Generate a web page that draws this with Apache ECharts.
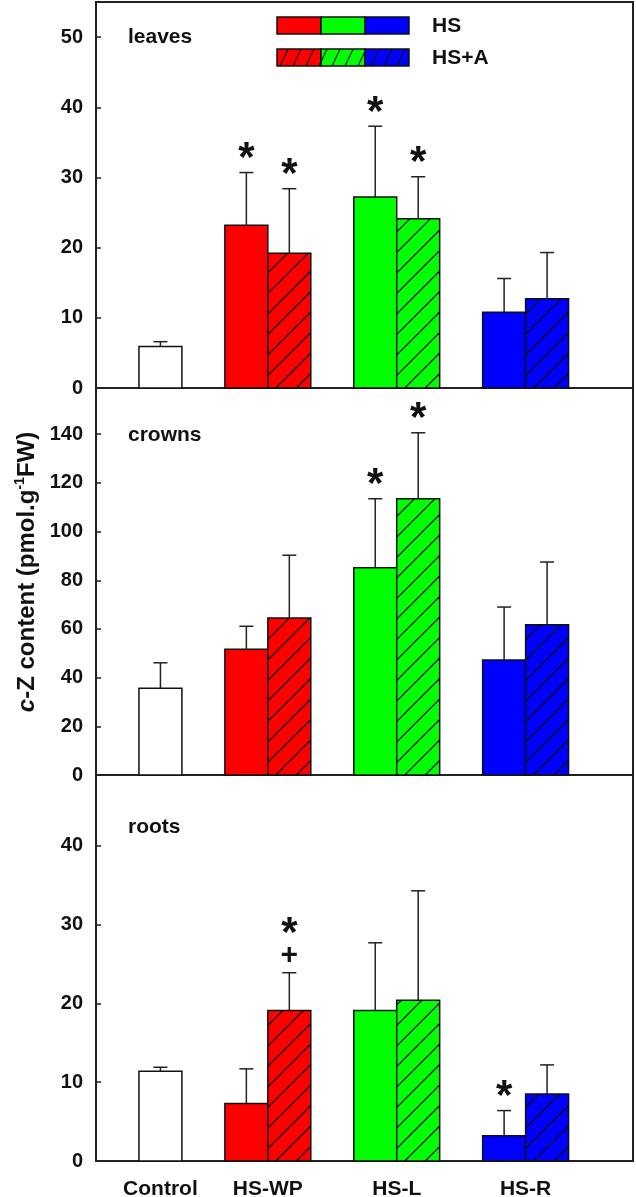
<!DOCTYPE html>
<html><head><meta charset="utf-8">
<script src="https://cdn.jsdelivr.net/npm/echarts@6/dist/echarts.min.js"></script>
<style>html,body{margin:0;padding:0;background:#fff}#c{width:636px;height:1197px}</style>
</head><body><div id="c"></div>
<script>
// ---------------- DATA ----------------
const groups = ['Control', 'HS-WP', 'HS-L', 'HS-R'];
const barGroup = [0, 1, 1, 2, 2, 3, 3];
const barTreatment = ['Control', 'HS', 'HS+A', 'HS', 'HS+A', 'HS', 'HS+A'];

const leavesMean = [5.9, 23.2, 19.2, 27.2, 24.1, 10.8, 12.7];
const leavesSE   = [0.7, 7.5, 9.2, 10.1, 6.0, 4.8, 6.6];
const leavesSig  = [[], ['*'], ['*'], ['*'], ['*'], [], []];

const crownsMean = [35.6, 51.7, 64.5, 85.1, 113.5, 47.2, 61.7];
const crownsSE   = [10.5, 9.4, 25.8, 28.4, 27.1, 21.8, 25.8];
const crownsSig  = [[], [], [], ['*'], ['*'], [], []];

const rootsMean = [11.4, 7.3, 19.1, 19.1, 20.4, 3.2, 8.5];
const rootsSE   = [0.5, 4.4, 4.8, 8.6, 13.9, 3.2, 3.7];
const rootsSig  = [[], [], ['+', '*'], [], [], ['*'], []];

const leavesTicks = [0, 10, 20, 30, 40, 50];
const crownsTicks = [0, 20, 40, 60, 80, 100, 120, 140];
const rootsTicks  = [0, 10, 20, 30, 40];

// ---------------- LAYOUT ----------------
const groupColors = ['#ffffff', '#ff0000', '#00ff00', '#0000ff'];
const groupCenter = [1.5, 4, 7, 10];           // x-axis units (1 unit = one bar width)
function barX(i) {
  const g = barGroup[i];
  if (g === 0) return groupCenter[0];
  return groupCenter[g] + (barTreatment[i] === 'HS' ? -0.5 : 0.5);
}
const FONT = '"Liberation Sans", Arial, sans-serif';
const INK = '#111';

// "/" hatch lines: y = c - s*x in screen space, spacing measured along x
function hatchLines(x0, y0, w, h, opt) {
  const sp = opt.spacing, s = opt.slope, lw = opt.lw, phase = opt.phase;
  const out = [];
  // parametrise by u = x where the line meets y = y0 + h (bottom edge)
  const uMin = x0 - h / s - sp, uMax = x0 + w + sp;
  for (let u = x0 + phase - Math.ceil((x0 + phase - uMin) / sp) * sp; u <= uMax; u += sp) {
    // line: y = (y0 + h) - s * (x - u)
    const xAtTop = u + h / s;
    const lo = Math.max(x0, u);
    const hi = Math.min(x0 + w, xAtTop);
    if (hi - lo > 0.6) {
      out.push({ type: 'line', shape: { x1: lo, y1: y0 + h - s * (lo - u), x2: hi, y2: y0 + h - s * (hi - u) },
                 style: { stroke: INK, lineWidth: lw } });
    }
  }
  return out;
}
const BAR_HATCH = { spacing: 20.5, slope: 1, lw: 1.2, phase: 8 };
const LEG_HATCH = { spacing: 13, slope: 2.1, lw: 1.1, phase: 3 };

function makeRender(sig) {
  return function (params, api) {
    const idx = api.value(3);
    const xc = api.value(0), mean = api.value(1), se = api.value(2);
    const p0 = api.coord([xc - 0.5, mean]);
    const p1 = api.coord([xc + 0.5, 0]);
    const x0 = p0[0], y0 = p0[1], w = p1[0] - p0[0], h = p1[1] - p0[1];
    const pe = api.coord([xc, mean + se]);
    const ch = [];
    ch.push({ type: 'line', shape: { x1: pe[0], y1: y0, x2: pe[0], y2: pe[1] }, style: { stroke: '#222', lineWidth: 1.5 } });
    ch.push({ type: 'line', shape: { x1: pe[0] - 7, y1: pe[1], x2: pe[0] + 7, y2: pe[1] }, style: { stroke: '#222', lineWidth: 1.5 } });
    ch.push({ type: 'rect', shape: { x: x0, y: y0, width: w, height: h },
              style: { fill: groupColors[barGroup[idx]], stroke: INK, lineWidth: 1.5 } });
    if (barTreatment[idx] === 'HS+A') hatchLines(x0, y0, w, h, BAR_HATCH).forEach(l => ch.push(l));
    let off = 0;
    (sig[idx] || []).forEach((m, k) => {
      let yy;
      if (m === '*') { off += (k === 0 ? 21 : 29); yy = pe[1] - off + 8; }
      else { off += 17; yy = pe[1] - off; }
      ch.push({ type: 'text', x: pe[0], y: yy,
        style: { text: m, font: m === '*' ? 'bold 42px ' + FONT : 'bold 30px ' + FONT,
                 fill: INK, align: 'center', verticalAlign: 'middle' } });
    });
    return { type: 'group', children: ch };
  };
}

function seriesData(mean, se) { return mean.map((m, i) => [barX(i), m, se[i], i]); }

const panels = [
  { top: 2, height: 386, max: 55, interval: 10, ticks: leavesTicks, mean: leavesMean, se: leavesSE, sig: leavesSig },
  { top: 388, height: 387, max: 159, interval: 20, ticks: crownsTicks, mean: crownsMean, se: crownsSE, sig: crownsSig },
  { top: 775, height: 386, max: 49, interval: 10, ticks: rootsTicks, mean: rootsMean, se: rootsSE, sig: rootsSig }
];

const axisLineStyle = { color: '#222', width: 2 };
const catLabel = { 1.5: groups[0], 4: groups[1], 7: groups[2], 10: groups[3] };

const option = {
  animation: false,
  backgroundColor: '#fff',
  grid: panels.map(p => ({ left: 96, right: 3, top: p.top, height: p.height, show: true,
    borderColor: '#222', borderWidth: 2, backgroundColor: 'transparent', outerBoundsMode: 'none', containLabel: false })),
  xAxis: panels.map((p, k) => ({
    type: 'value', gridIndex: k, min: 0, max: 12.5, interval: 0.5,
    axisLine: { show: true, onZero: false, lineStyle: axisLineStyle },
    axisTick: { show: false }, splitLine: { show: false },
    axisLabel: k === 2 ? {
      show: true, customValues: [1.5, 4, 7, 10], margin: 18,
      formatter: v => catLabel[v] || '',
      fontSize: 21, fontWeight: 'bold', color: INK, fontFamily: FONT
    } : { show: false }
  })),
  yAxis: panels.map((p, k) => ({
    type: 'value', gridIndex: k, min: 0, max: p.max, interval: p.interval,
    axisLine: { show: true, lineStyle: axisLineStyle },
    axisTick: { show: true, inside: true, length: 5, lineStyle: { color: '#222', width: 1.5 } },
    splitLine: { show: false },
    axisLabel: { margin: 13, fontSize: 20, fontWeight: 'bold', color: INK, fontFamily: FONT,
      formatter: v => (p.ticks.indexOf(v) >= 0 ? String(v) : '') }
  })),
  series: panels.map((p, k) => ({
    type: 'custom', xAxisIndex: k, yAxisIndex: k, clip: false,
    encode: { x: 0, y: 1 },
    data: seriesData(p.mean, p.se),
    renderItem: makeRender(p.sig)
  })),
  graphic: []
};

// panel labels
[['leaves', 37], ['crowns', 435], ['roots', 827]].forEach(([t, y]) => {
  option.graphic.push({ type: 'text', x: 128, y: y,
    style: { text: t, font: 'bold 21px ' + FONT, fill: INK, align: 'left', verticalAlign: 'middle' } });
});

// y-axis title
option.graphic.push({ type: 'text', x: 27, y: 572, rotation: Math.PI / 2,
  style: { text: '{i|c}-Z content (pmol.g{s|-1}FW)', font: 'bold 24px ' + FONT, fill: INK,
    align: 'center', verticalAlign: 'middle',
    rich: { i: { fontStyle: 'italic', fontWeight: 'bold', fontSize: 24, fontFamily: FONT, fill: INK },
            s: { fontWeight: 'bold', fontSize: 14, fontFamily: FONT, fill: INK, verticalAlign: 'top', lineHeight: 28 } } } });

// legend
const legendRows = [{ label: 'HS', y: 17, hatched: false }, { label: 'HS+A', y: 49, hatched: true }];
legendRows.forEach(r => {
  [1, 2, 3].forEach((g, j) => {
    const x0 = 277 + j * 44, w = 44, h = 17;
    option.graphic.push({ type: 'rect', shape: { x: x0, y: r.y, width: w, height: h },
      style: { fill: groupColors[g], stroke: INK, lineWidth: 1.5 } });
  });
  if (r.hatched) hatchLines(277, r.y, 132, 17, LEG_HATCH).forEach(l => option.graphic.push(l));
  option.graphic.push({ type: 'text', x: 432, y: r.y + 9,
    style: { text: r.label, font: 'bold 21px ' + FONT, fill: INK, align: 'left', verticalAlign: 'middle' } });
});

const chart = echarts.init(document.getElementById('c'), null, { renderer: 'canvas' });
chart.setOption(option);
</script>
</body></html>
